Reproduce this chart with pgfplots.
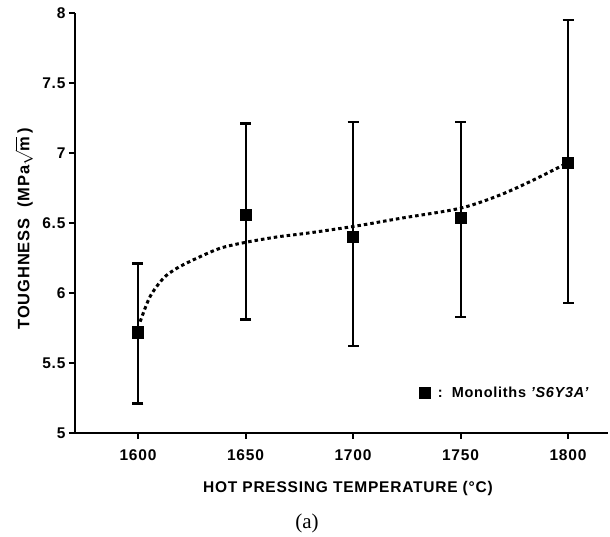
\documentclass[border=0pt]{standalone}
\usepackage{fontspec}
\setmainfont{Liberation Sans}
\newfontfamily\seriffont{Liberation Serif}
\newfontfamily\spacedfont[LetterSpace=5]{Liberation Sans}
\usepackage{pgfplots}
\pgfplotsset{compat=1.18}
\usepackage{pgfplotstable}

\pgfplotstableread{
x y ep em
1600 5.72 0.49 0.51
1650 6.56 0.65 0.75
1700 6.40 0.82 0.78
1750 6.54 0.68 0.71
1800 6.93 1.02 1.00
}\datatable

\pgfplotstableread{
x y
1601.0 5.795
1605.6 5.974
1611.8 6.105
1618.0 6.176
1627.3 6.248
1638.1 6.319
1649.4 6.360
1664.5 6.400
1680.0 6.430
1701.7 6.479
1721.9 6.533
1749.8 6.605
1768.4 6.700
1783.9 6.807
1797.8 6.914
}\fittable

\begin{document}
\begin{tikzpicture}
\useasboundingbox (-75pt,-104pt) rectangle (535pt,433pt);
\begin{axis}[
  at={(0pt,0pt)}, anchor=south west,
  scale only axis, width=533pt, height=420pt,
  xmin=1570.7, xmax=1818.6, ymin=5, ymax=8,
  axis lines*=left,
  axis line style={line width=2.5pt, black},
  xtick={1600,1650,1700,1750,1800},
  ytick={5,5.5,6,6.5,7,7.5,8},
  tick align=outside, major tick length=6pt,
  tick style={line width=2pt, black},
  /pgf/number format/assume math mode=true,
  ticklabel style={font=\spacedfont\fontsize{15.5}{17}\selectfont\bfseries},
  xticklabel style={/pgf/number format/1000 sep={}, yshift=-7pt},
  every axis y label/.style={at={(rel axis cs:0,0.486)}, xshift=-51pt, rotate=90, anchor=center, font=\spacedfont\fontsize{16.5}{18}\selectfont\bfseries},
  every axis x label/.style={at={(rel axis cs:0.512,0)}, yshift=-55pt, anchor=center, font=\spacedfont\fontsize{15.5}{17}\selectfont\bfseries},
  ylabel={TOUGHNESS\ \ (MPa$\sqrt{\textbf{m}}$\,)},
  xlabel={HOT PRESSING TEMPERATURE (\textdegree C)},
  legend style={draw=none, fill=none, inner sep=0pt, at={(axis cs:1730.5,5.286)}, anchor=west, font=\spacedfont\fontsize{14.5}{16}\selectfont\bfseries},
  legend cell align=left,
  clip=false,
]
\addplot[smooth, black, line width=3pt, dash pattern=on 3.5pt off 3pt, forget plot] table[x=x,y=y] {\fittable};
\addplot[only marks, mark=square*, mark size=5.6pt, black,
  error bars/.cd, y dir=both, y explicit, error mark=|,
  error bar style={line width=2pt, black},
  error mark options={line width=2.5pt, mark size=5.5pt, black}]
  table[x=x, y=y, y error plus=ep, y error minus=em] {\datatable};
\addlegendentry{\hspace{6pt}:\hspace{9pt}Monoliths \textit{’S6Y3A’}}
\end{axis}
\node[font=\seriffont\fontsize{21}{23}\selectfont] at (232pt,-90pt) {(a)};
\end{tikzpicture}
\end{document}
